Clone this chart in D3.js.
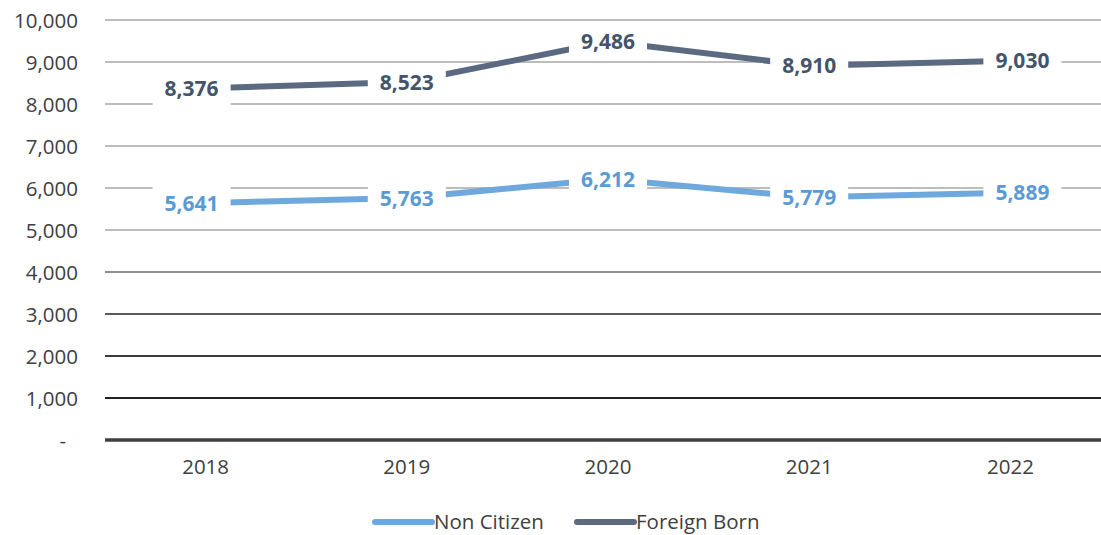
<!DOCTYPE html>
<html>
<head>
<meta charset="utf-8">
<script src="https://cdn.jsdelivr.net/npm/d3@7"></script>
<style>
  html, body { margin: 0; padding: 0; background: #fff; }
  svg { display: block; font-family: "Open Sans", "Noto Sans", sans-serif; }
</style>
</head>
<body>
<svg id="chart" width="1101" height="535"></svg>
<script>
// Yearly counts for the two populations
const years = ["2018", "2019", "2020", "2021", "2022"];
const nonCitizen = [5641, 5763, 6212, 5779, 5889];
const foreignBorn = [8376, 8523, 9486, 8910, 9030];
const yTicks = [0, 1000, 2000, 3000, 4000, 5000, 6000, 7000, 8000, 9000, 10000];
const seriesNames = ["Non Citizen", "Foreign Born"];

const W = 1101, H = 535;
const plot = { left: 105, right: 1111, top: 20, bottom: 440 };

const svg = d3.select("#chart");

const x = d3.scaleBand().domain(years).range([plot.left, plot.right]);
const y = d3.scaleLinear().domain([0, 10000]).range([plot.bottom, plot.top]);
const fmt = d3.format(",");

// Gridlines darken toward the baseline
function gridColor(v) {
  if (v >= 5000) return "#bdbdbd";
  if (v >= 4000) return "#8f8f8f";
  if (v >= 3000) return "#5a5a5a";
  if (v >= 2000) return "#3a3a3a";
  return "#222";
}

const grid = svg.append("g");
grid.selectAll("line")
  .data(yTicks.filter(v => v > 0))
  .join("line")
  .attr("x1", plot.left).attr("x2", W)
  .attr("y1", d => y(d)).attr("y2", d => y(d))
  .attr("stroke", gridColor)
  .attr("stroke-width", 2);

// Baseline
svg.append("line")
  .attr("x1", plot.left).attr("x2", W)
  .attr("y1", y(0)).attr("y2", y(0))
  .attr("stroke", "#404040").attr("stroke-width", 3.5);

// Y axis labels
const yAxis = d3.axisLeft(y).tickValues(yTicks)
  .tickFormat(d => d === 0 ? "-" : fmt(d)).tickSize(0).tickPadding(0);
const gy = svg.append("g").attr("transform", `translate(78,0)`).call(yAxis);
gy.select(".domain").remove();
gy.selectAll("text")
  .attr("font-family", "Open Sans, sans-serif")
  .attr("font-size", 20.5).attr("fill", "#404040")
  .attr("dy", "0.36em");
gy.selectAll(".tick").filter(d => d === 0).select("text").attr("dx", -12);

// X axis labels
const xAxis = d3.axisBottom(x).tickSize(0).tickPadding(0);
const gx = svg.append("g").attr("transform", `translate(0,${y(0) + 19})`).call(xAxis);
gx.select(".domain").remove();
gx.selectAll("text")
  .attr("font-family", "Open Sans, sans-serif")
  .attr("font-size", 20.5).attr("fill", "#404040");

const series = [
  { name: seriesNames[0], values: nonCitizen, line: "#6fa8dc", label: "#5b9bd5" },
  { name: seriesNames[1], values: foreignBorn, line: "#5b6a80", label: "#44546a" }
];

const lineGen = d3.line()
  .x((d, i) => x(years[i]) + x.bandwidth() / 2)
  .y(d => y(d));

series.forEach(s => {
  svg.append("path")
    .datum(s.values)
    .attr("d", lineGen)
    .attr("fill", "none")
    .attr("stroke", s.line)
    .attr("stroke-width", 6);
});

// Data labels on white boxes; end labels nudge outward
function labelShift(i) {
  if (i === 0) return -14;
  if (i === years.length - 1) return 12;
  return 0;
}
series.forEach(s => {
  const g = svg.append("g");
  s.values.forEach((v, i) => {
    const cx = x(years[i]) + x.bandwidth() / 2 + labelShift(i);
    const cy = y(v);
    const lg = g.append("g");
    const rect = lg.append("rect").attr("fill", "#fff");
    const t = lg.append("text")
      .attr("x", cx).attr("y", cy)
      .attr("text-anchor", "middle").attr("dy", "0.36em")
      .attr("font-family", "Open Sans, sans-serif")
      .attr("font-weight", "bold").attr("font-size", 21)
      .attr("fill", s.label)
      .text(fmt(v));
    const w = t.node().getComputedTextLength();
    rect.attr("x", cx - w / 2 - 12).attr("y", cy - 18)
      .attr("width", w + 24).attr("height", 36);
  });
});

// Legend
const legend = svg.append("g").attr("transform", `translate(0,${H - 13})`);
const legendItems = [
  { name: seriesNames[0], color: series[0].line, x0: 375 },
  { name: seriesNames[1], color: series[1].line, x0: 577 }
];
legendItems.forEach(it => {
  legend.append("line")
    .attr("x1", it.x0).attr("x2", it.x0 + 57)
    .attr("y1", 0).attr("y2", 0)
    .attr("stroke", it.color).attr("stroke-width", 6).attr("stroke-linecap", "round");
  legend.append("text")
    .attr("x", it.x0 + 59).attr("y", 0).attr("dy", "0.36em")
    .attr("font-family", "Open Sans, sans-serif")
    .attr("font-size", 20.5).attr("fill", "#404040")
    .text(it.name);
});
</script>
</body>
</html>
